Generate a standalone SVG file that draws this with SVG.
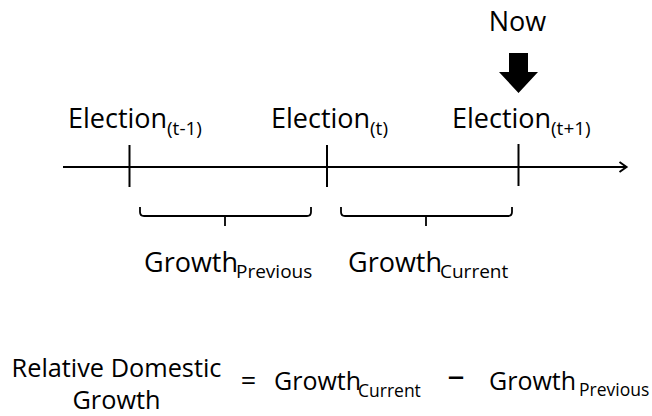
<svg xmlns="http://www.w3.org/2000/svg" width="652" height="416" viewBox="0 0 652 416">
<style>
text { font-family: "Open Sans", "Noto Sans", sans-serif; fill: #000; }
.main { font-size: 27px; }
.sub { font-size: 19px; }
.fm { font-size: 25px; }
.fsub { font-size: 17.5px; }
.line { stroke: #000; stroke-width: 2; fill: none; }
.brace { stroke: #000; stroke-width: 1.8; fill: none; stroke-linejoin: round; }
</style>
<rect width="652" height="416" fill="#fff"/>
<g id="connectors">
  <line class="line" x1="63" y1="167" x2="626" y2="167"/>
  <polyline class="line" points="619.5,162 626.5,167 619.5,172" stroke-linejoin="miter"/>
  <line class="line" x1="129.5" y1="145" x2="129.5" y2="187"/>
  <line class="line" x1="327" y1="145" x2="327" y2="187"/>
  <line class="line" x1="518.5" y1="144" x2="518.5" y2="186"/>
  <path class="brace" d="M140,207 V212 Q140,216 144,216 H307 Q311,216 311,212 V207 M225,216 V226"/>
  <path class="brace" d="M341,207 V212 Q341,216 345,216 H508 Q512,216 512,212 V207 M426,216 V226"/>
</g>
<g id="now">
  <text class="main" x="517.5" y="31" text-anchor="middle">Now</text>
  <polygon points="509,53 528,53 528,72 538,72 518.5,93 499,72 509,72" fill="#000"/>
</g>
<g id="election-t-1">
  <text class="main" x="68" y="128">Election</text>
  <text class="sub" x="167" y="135">(t-1)</text>
</g>
<g id="election-t">
  <text class="main" x="271" y="128">Election</text>
  <text class="sub" x="370" y="135">(t)</text>
</g>
<g id="election-t1">
  <text class="main" x="452" y="128">Election</text>
  <text class="sub" x="551" y="135">(t+1)</text>
</g>
<g id="growth-previous">
  <text class="main" x="144" y="272">Growth</text>
  <text class="sub" x="236" y="278">Previous</text>
</g>
<g id="growth-current">
  <text class="main" x="348" y="272">Growth</text>
  <text class="sub" x="440" y="278">Current</text>
</g>
<g id="formula">
  <text text-anchor="middle" font-size="25.3"><tspan x="116.5" y="377">Relative Domestic</tspan><tspan x="116.5" y="409">Growth</tspan></text>
  <text class="main" x="248.5" y="390" text-anchor="middle">=</text>
  <text class="fm" x="274" y="390">Growth</text>
  <text class="fsub" x="358" y="397">Current</text>
  <text x="456" y="387" text-anchor="middle" font-size="34">–</text>
  <text class="fm" x="489" y="390">Growth</text>
  <text class="fsub" x="579" y="396">Previous</text>
</g>
</svg>
